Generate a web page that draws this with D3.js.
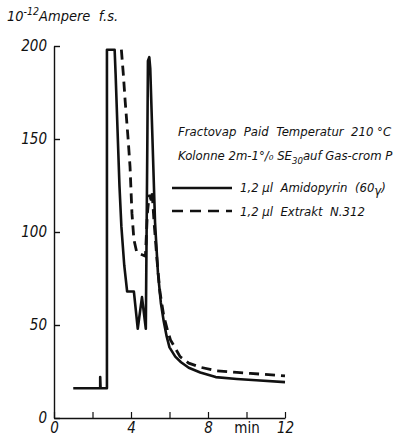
<!DOCTYPE html>
<html>
<head>
<meta charset="utf-8">
<script src="https://cdn.jsdelivr.net/npm/d3@7"></script>
<style>
  body { margin: 0; background: #fff; }
  svg text { font-family: "DejaVu Sans Condensed", "DejaVu Sans", sans-serif; font-style: italic; fill: #111; white-space: pre; }
</style>
</head>
<body>
<svg id="chart" width="404" height="437"></svg>
<script>
// time (min) and current (10^-12 A)
const amidoX = [1.0, 2.4, 2.4, 2.42, 2.75, 2.75, 3.15, 3.2, 3.3, 3.4, 3.5, 3.65, 3.8, 4.15, 4.35, 4.57, 4.77, 4.85, 4.88, 4.95, 5.0, 5.1, 5.25, 5.4, 5.55, 5.7, 5.85, 6.0, 6.3, 6.6, 7.0, 7.6, 8.4, 9.5, 10.5, 12];
const amidoY = [16, 16, 22, 16, 16, 198, 198, 185, 155, 125, 103, 82, 68, 68, 48, 65, 48, 150, 192, 194, 188, 155, 105, 78, 62, 52, 44, 38, 33, 30, 27, 24.5, 22, 21, 20.3, 19.3];
const extraktX = [3.5, 3.6, 3.7, 3.85, 3.95, 4.05, 4.15, 4.3, 4.75, 4.85, 4.95, 5.05, 5.1, 5.2, 5.35, 5.5, 5.7, 5.9, 6.05, 6.55, 7.0, 7.6, 8.45, 9.5, 10.2, 12];
const extraktY = [198, 185, 170, 150, 135, 110, 96, 89, 87, 110, 120, 117, 121, 105, 85, 68, 55, 47, 42, 33, 29.5, 27.3, 25.3, 24.5, 24, 22.6];

const xTicks = [0, 2, 4, 6, 8, 10, 12];
const xTickLabels = ["0", "", "4", "", "8", "min", "12"];
const yTicks = [0, 50, 100, 150, 200];

const svg = d3.select("#chart");

const x = d3.scaleLinear().domain([0, 12]).range([54, 285]);
const y = d3.scaleLinear().domain([0, 200]).range([418, 46]);

// y axis: ticks point into the plot, labels left
const yAxis = svg.append("g")
  .attr("transform", "translate(" + x(0) + ",0)")
  .call(d3.axisLeft(y).tickValues(yTicks).tickSizeInner(-6).tickSizeOuter(0).tickPadding(7));
yAxis.select(".domain").attr("stroke", "#111").attr("stroke-width", 1.4);
yAxis.selectAll(".tick line").attr("stroke", "#111").attr("stroke-width", 1.4);
yAxis.selectAll(".tick text").attr("font-size", 15).attr("dy", "0.3em")
  .attr("font-family", null).style("fill", "#111");

// x axis
const xAxis = svg.append("g")
  .attr("transform", "translate(0," + y(0) + ")")
  .call(d3.axisBottom(x).tickValues(xTicks).tickSizeInner(-6).tickSizeOuter(0).tickPadding(6)
    .tickFormat((d, i) => xTickLabels[i]));
xAxis.select(".domain").attr("stroke", "#111").attr("stroke-width", 1.4);
xAxis.selectAll(".tick line").attr("stroke", "#111").attr("stroke-width", 1.2);
xAxis.selectAll(".tick text").attr("font-size", 15).attr("dy", "0.6em")
  .attr("font-family", null).style("fill", "#111")
  .style("font-style", (d, i) => xTickLabels[i] === "min" ? "normal" : "italic");

// unit label
const unit = svg.append("text").attr("x", 7).attr("y", 21).attr("font-size", 14.5);
unit.append("tspan").text("10");
unit.append("tspan").attr("dy", -6).attr("font-size", 10.5).text("-12");
unit.append("tspan").attr("dy", 6).text("Ampere  f.s.");

const line = d3.line().x(d => x(d[0])).y(d => y(d[1]));

svg.append("path")
  .datum(d3.zip(amidoX, amidoY))
  .attr("d", line)
  .attr("fill", "none").attr("stroke", "#111").attr("stroke-width", 2.6)
  .attr("stroke-linejoin", "round");

svg.append("path")
  .datum(d3.zip(extraktX, extraktY))
  .attr("d", line)
  .attr("fill", "none").attr("stroke", "#111").attr("stroke-width", 2.8)
  .attr("stroke-dasharray", "10,6");

// legend block
const lg = svg.append("g").attr("font-size", 13);
lg.append("text").attr("x", 178).attr("y", 136).text("Fractovap  Paid  Temperatur  210 °C");
const k = lg.append("text").attr("x", 178).attr("y", 160);
k.append("tspan").text("Kolonne 2m-1°/\u2080 SE");
k.append("tspan").attr("dy", 4).attr("font-size", 9.5).text("30");
k.append("tspan").attr("dy", -4).text("auf Gas-crom P");

lg.append("line").attr("x1", 172).attr("x2", 232).attr("y1", 188).attr("y2", 188)
  .attr("stroke", "#111").attr("stroke-width", 2.4);
lg.append("line").attr("x1", 172).attr("x2", 232).attr("y1", 211).attr("y2", 211)
  .attr("stroke", "#111").attr("stroke-width", 2.6).attr("stroke-dasharray", "11,7");
const a = lg.append("text").attr("x", 240).attr("y", 192);
a.append("tspan").text("1,2 µl  Amidopyrin  (60");
a.append("tspan").attr("dy", 3).text("γ");
a.append("tspan").attr("dy", -3).text(")");
lg.append("text").attr("x", 240).attr("y", 216).text("1,2 µl  Extrakt  N.312");
</script>
</body>
</html>
